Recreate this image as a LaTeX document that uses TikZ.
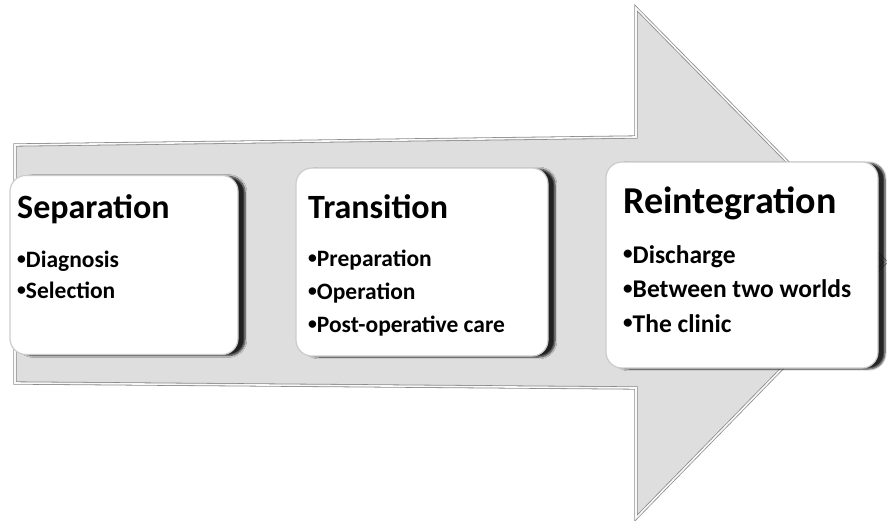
\documentclass[tikz,border=0pt]{standalone}
\usepackage{fontspec}
\setmainfont{Carlito}
\usetikzlibrary{positioning, shadows.blur}
\definecolor{ArrowGray}{RGB}{222,222,222}
\definecolor{EdgeGray}{RGB}{140,140,140}
\newcommand{\dotmark}{\raisebox{0.12em}{\scalebox{0.75}{•}}}

\begin{document}
\begin{tikzpicture}[x=1pt, y=-1pt, font=\bfseries]
    \tikzstyle{stage} = [rectangle, draw=gray!40, fill=white, line width=1.2pt, rounded corners=16pt, inner sep=0pt, blur shadow={shadow xshift=7pt, shadow yshift=-1pt, shadow blur steps=6, shadow opacity=85}]
    \tikzstyle{heading} = [anchor=base west, inner sep=0pt, font=\bfseries\fontsize{34}{34}\selectfont]
    \tikzstyle{items} = [inner sep=0pt, align=left, font=\bfseries\fontsize{23.5}{31}\selectfont]
    \tikzstyle{bigarrow} = [fill=ArrowGray, draw=EdgeGray, line width=0.8pt, double=white!95!gray, double distance=1.6pt, line join=miter]

    \useasboundingbox (0,0) rectangle (887,520);

    % the arrow everything sits on
    \draw [bigarrow] (15,145) -- (636,137) -- (636,8) -- (886,262) -- (636,518) -- (636,388) -- (15,383) -- cycle;

    \node [stage, minimum width=228pt, minimum height=179pt] (sep) at (124,265) {};
    \node [stage, minimum width=252pt, minimum height=188pt] (trans) at (422,262) {};
    \node [stage, minimum width=272pt, minimum height=206pt] (reint) at (742,265) {};

    % base of a list node is its last line
    \node [heading] (sepTitle) at (17,218) {Separation};
    \node [items, below=80pt of sepTitle.base west, anchor=base west] (sepItems) {\dotmark Diagnosis\\\dotmark Selection};

    \node [heading] (transTitle) at (308,218) {Transition};
    \node [items, font=\bfseries\fontsize{23.5}{33}\selectfont, below=114pt of transTitle.base west, anchor=base west] (transItems) {\dotmark Preparation\\\dotmark Operation\\\dotmark Post-operative care};

    \node [heading, font=\bfseries\fontsize{38}{38}\selectfont] (reintTitle) at (623,213) {Reintegration};
    \node [items, font=\bfseries\fontsize{25.5}{34.5}\selectfont, below=119pt of reintTitle.base west, anchor=base west] (reintItems) {\dotmark Discharge\\\dotmark Between two worlds\\\dotmark The clinic};
\end{tikzpicture}
\end{document}
